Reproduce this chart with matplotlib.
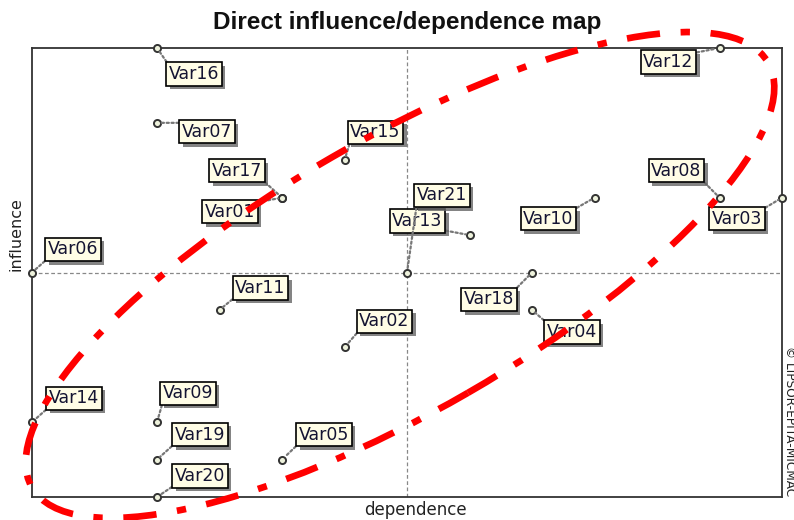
import matplotlib
matplotlib.use("Agg")
import matplotlib.pyplot as plt
from matplotlib.patches import Ellipse
from matplotlib.transforms import IdentityTransform
import matplotlib.patheffects as pe

# variables, dependence (x) and influence (y)
names = ["Var01", "Var02", "Var03", "Var04", "Var05", "Var06", "Var07",
         "Var08", "Var09", "Var10", "Var11", "Var12", "Var13", "Var14",
         "Var15", "Var16", "Var17", "Var18", "Var19", "Var20", "Var21"]
dependence = [4, 5, 12, 8, 4, 0, 2, 11, 2, 9, 3, 11, 7, 0, 5, 2, 4, 8, 2, 2, 6]
influence = [8, 4, 8, 5, 1, 6, 10, 8, 2, 8, 5, 12, 7, 2, 9, 12, 8, 6, 1, 0, 6]

# label offsets (pixels, screen right / down) from each point
offsets = {
    "Var01": (-52, 14), "Var02": (40, -26), "Var03": (-45, 21), "Var04": (40, 22),
    "Var05": (42, -25), "Var06": (41, -23), "Var07": (50, 9), "Var08": (-43, -27),
    "Var09": (31, -29), "Var10": (-46, 21), "Var11": (41, -22), "Var12": (-51, 14),
    "Var13": (-52, -14), "Var14": (42, -24), "Var15": (31, -28), "Var16": (37, 26),
    "Var17": (-45, -27), "Var18": (-43, 27), "Var19": (43, -25), "Var20": (43, -21),
    "Var21": (35, -77),
}

plt.rcParams['font.family'] = ['DejaVu Sans']

fig = plt.figure(figsize=(7.94, 5.2), dpi=100)
ax = fig.add_axes([32/794, 23/520, 750/794, 449/520])
ax.set_xlim(0, 12)
ax.set_ylim(0, 12)
ax.set_xticks([])
ax.set_yticks([])
for s in ax.spines.values():
    s.set_color("#333333")
    s.set_linewidth(1.3)

# mean lines
ax.axvline(6, color="#888888", lw=0.9, ls=(0, (3, 2)), zorder=1)
ax.axhline(6, color="#888888", lw=0.9, ls=(0, (3, 2)), zorder=1)

ax.scatter(dependence, influence, s=26, facecolor="#eef2dc", edgecolor="#333333",
           linewidth=1.4, zorder=4, clip_on=False)

for n, x, y in zip(names, dependence, influence):
    dx, dy = offsets[n]
    # leader starts from the box corner facing the point
    rel = (0 if dx > 0 else 1, 1 if dy > 0 else 0)
    a = ax.annotate(n, xy=(x, y), xytext=(dx, -dy), textcoords="offset pixels",
                    ha="center", va="center", fontsize=12.5, color="#141432",
                    bbox=dict(boxstyle="square,pad=0.15", fc="#fffde6", ec="black", lw=1.2),
                    arrowprops=dict(arrowstyle="-", ls=(0, (1, 1.2)), color="#777777",
                                    lw=1.6, shrinkA=0, shrinkB=3, relpos=rel),
                    zorder=5, annotation_clip=False)
    a.get_bbox_patch().set_path_effects([
        pe.SimplePatchShadow(offset=(2.5, -2.5), shadow_rgbFace="#666666", alpha=0.8),
        pe.Normal()])

# highlighted group
ell = Ellipse((400, 245), 2 * 425, 2 * 136, angle=30, transform=IdentityTransform(),
              fill=False, ec="#ff0000", lw=4.8, ls=(0, (5, 3.1, 1.4, 3.1)),
              capstyle="butt", clip_on=False, zorder=10)
fig.add_artist(ell)

fig.text(0.513, 1 - 22/520, "Direct influence/dependence map", ha="center", va="center",
         fontsize=17.5, fontweight="bold", color="#111111", family="Liberation Sans")
fig.text(415/794, 1 - 510/520, "dependence", ha="center", va="center", fontsize=12,
         color="#222222")
fig.text(16/794, 1 - 234/520, "influence", ha="center", va="center", fontsize=11.5,
         rotation=90, color="#222222")
fig.text(789/794, 1 - 421/520, "\u00a9 LIPSOR-EPITA-MICMAC", ha="center", va="center",
         fontsize=8.7, rotation=-90, color="#222222")

fig.savefig("out.png", dpi=100)
